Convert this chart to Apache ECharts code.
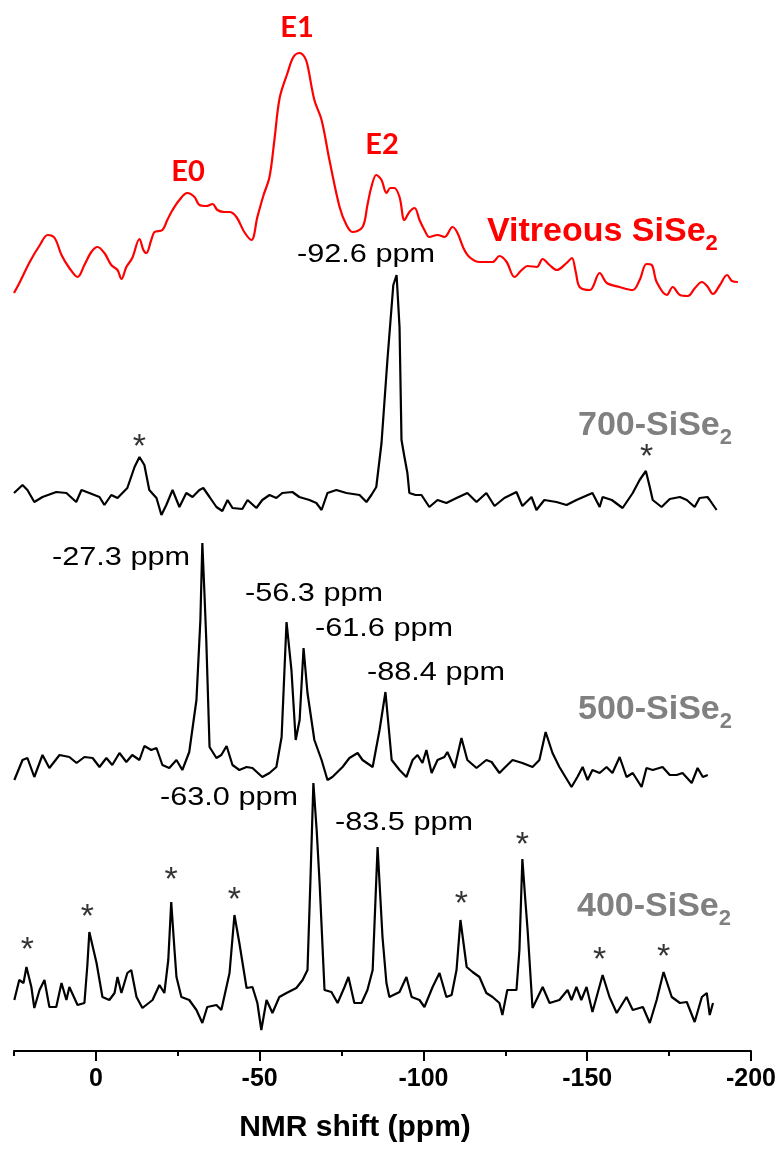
<!DOCTYPE html>
<html>
<head>
<meta charset="utf-8">
<script src="https://cdn.jsdelivr.net/npm/echarts@6/dist/echarts.min.js"></script>
<style>html,body{margin:0;padding:0;background:#fff}#c{width:781px;height:1150px}</style>
</head>
<body>
<div id="c"></div>
<script>
// ---- tick values (ppm) ----
const xMajorTicks = [0, -50, -100, -150, -200];
const xMinorTicks = [25, -25, -75, -125, -175];

// ---- spectra: [ppm, intensity above own baseline] ----
const vitreous = [[25,7],[23.2,18],[20.2,38],[17.1,55],[14.7,65],[12.6,62],[10.5,45],[8.1,32],[5.6,23],[3.5,35],[1.4,48],[-0.5,53],[-2.6,47],[-4.7,35],[-6.6,30],[-7.8,21],[-9.3,33],[-11.1,42],[-13.3,61],[-14.5,50],[-15.4,47],[-16.9,60],[-17.9,68],[-20.3,70],[-21.8,80],[-23.4,90],[-25.5,100],[-27.9,107],[-30.1,103],[-31.6,95],[-33.7,94],[-35.6,96],[-37.1,90],[-39.2,88],[-40.8,88],[-42.9,83],[-45.3,68],[-47.5,60],[-49.3,83],[-51.2,105],[-53.0,123],[-54.5,160],[-56.1,202],[-58.5,227],[-60.3,243],[-62.2,247],[-63.7,243],[-64.6,235],[-66.7,200],[-68.9,180],[-71.3,140],[-74.4,93],[-76.5,75],[-78.3,68],[-81.4,73],[-82.9,95],[-84.1,113],[-85.6,125],[-87.2,120],[-88.7,107],[-89.9,112],[-91.1,112],[-92.7,103],[-94.2,80],[-95.7,88],[-97.3,92],[-98.8,80],[-100.3,70],[-101.8,63],[-104.3,65],[-106.4,63],[-108.9,73],[-110.4,67],[-112.2,52],[-114.0,43],[-117.1,38],[-121.1,38],[-123.2,44],[-125.4,38],[-127.8,23],[-130.0,30],[-131.8,34],[-134.6,33],[-136.4,41],[-138.5,35],[-140.7,30],[-143.7,37],[-145.3,42],[-146.5,28],[-147.7,13],[-150.8,10],[-153.8,27],[-156.0,17],[-159.9,13],[-163.9,10],[-166.0,20],[-168.1,36],[-169.7,35],[-171.2,18],[-174.3,5],[-176.1,13],[-178.3,5],[-180.7,4],[-182.9,12],[-185.0,18],[-186.6,14],[-188.4,6],[-190.5,15],[-192.7,25],[-194.2,19],[-196.0,18]];

const s700 = [[25,7],[22.4,15],[20.9,10],[18.8,-2],[16.3,3],[12.1,8],[9.0,7],[6.0,-2],[4.4,10],[2.0,7],[-1.1,3],[-2.6,-5],[-4.7,5],[-6.6,2],[-9.6,12],[-11.8,33],[-13.3,43],[-14.8,35],[-16.3,10],[-18.5,2],[-20.0,-15],[-21.5,-5],[-23.4,10],[-25.5,-7],[-27.6,7],[-29.5,3],[-31.6,10],[-32.8,12],[-34.7,3],[-36.8,-7],[-38.6,-11],[-40.2,0],[-41.7,-8],[-44.7,-9],[-46.3,0],[-49.0,-8],[-50.8,0],[-53.0,5],[-55.1,2],[-56.9,7],[-60.0,8],[-62.1,3],[-65.2,0],[-67.3,-3],[-68.9,-10],[-70.7,7],[-73.4,10],[-76.5,7],[-80.5,5],[-82.6,-2],[-84.1,5],[-85.6,13],[-87.2,57],[-89.0,140],[-90.8,215],[-91.8,225],[-92.7,173],[-93.3,60],[-94.2,43],[-95.1,27],[-95.7,7],[-97.6,5],[-99.4,5],[-101.8,-7],[-104.3,0],[-107.0,-3],[-110.1,2],[-113.4,7],[-116.2,-2],[-119.2,7],[-121.7,-6],[-124.7,2],[-128.4,8],[-130.2,-6],[-133.0,3],[-134.5,-10],[-136.9,0],[-140.6,-2],[-143.7,-5],[-146.7,0],[-151.6,7],[-153.8,-7],[-154.7,3],[-157.5,0],[-160.8,-8],[-163.9,7],[-166.0,20],[-167.9,29],[-169.1,13],[-170.0,0],[-172.7,-7],[-175.2,1],[-178.3,3],[-180.4,0],[-182.8,-7],[-184.3,2],[-186.7,3],[-187.4,0],[-189.5,-10]];

const s500 = [[24.9,-10],[22.4,10],[20.9,12],[18.8,-7],[16.3,15],[14.2,2],[11.1,15],[8.1,13],[5.9,7],[3.5,13],[1.0,12],[-1.1,3],[-3.2,12],[-5.0,5],[-7.2,17],[-9.3,8],[-11.1,15],[-13.3,10],[-14.8,24],[-16.9,20],[-18.5,22],[-20.3,5],[-22.4,2],[-24.6,10],[-26.4,0],[-28.5,18],[-30.7,70],[-31.9,150],[-32.5,227],[-33.1,180],[-33.7,130],[-34.7,23],[-36.8,12],[-38.3,15],[-39.9,24],[-41.7,5],[-43.8,0],[-46.0,3],[-47.8,2],[-50.8,-7],[-53.0,-3],[-55.1,3],[-56.7,33],[-58.2,148],[-59.7,100],[-61.0,30],[-62.2,50],[-63.4,122],[-64.6,77],[-66.7,30],[-68.9,10],[-70.7,-10],[-72.2,-7],[-75.3,3],[-77.4,12],[-79.9,17],[-81.4,10],[-84.5,3],[-86.6,40],[-88.4,78],[-90.3,10],[-92.7,0],[-94.8,-7],[-96.7,10],[-98.2,15],[-99.7,7],[-100.9,20],[-102.5,-3],[-104.3,10],[-106.4,13],[-107.3,18],[-109.5,2],[-111.6,32],[-113.4,10],[-116.2,2],[-119.2,10],[-120.8,8],[-123.2,-3],[-124.7,2],[-127.2,10],[-130.2,7],[-133.3,3],[-135.4,10],[-137.3,38],[-139.4,17],[-141.5,3],[-145.2,-17],[-147.0,-7],[-148.6,3],[-150.1,-10],[-151.6,0],[-153.8,-3],[-155.9,3],[-157.7,-3],[-159.9,13],[-162.0,-7],[-163.9,-3],[-166.6,-17],[-168.1,2],[-170.0,0],[-173.0,3],[-175.2,-5],[-177.3,-5],[-179.1,-3],[-181.9,-13],[-183.7,2],[-185.3,-7],[-186.8,-5]];

const s400 = [[24.9,0],[23.4,20],[22.1,17],[21.2,33],[19.7,13],[18.8,-8],[17.2,10],[15.7,20],[14.2,-7],[12.1,-7],[10.5,17],[9.0,0],[8.1,13],[5.6,-5],[3.5,-3],[2.6,35],[2.0,68],[-0.2,37],[-2.0,3],[-4.1,0],[-5.7,7],[-6.6,23],[-7.8,7],[-9.6,27],[-10.8,30],[-12.4,3],[-14.2,-8],[-17.3,0],[-19.4,15],[-20.9,7],[-22.1,40],[-23.0,98],[-24.0,50],[-24.6,23],[-26.1,3],[-28.5,0],[-30.7,-10],[-32.5,-23],[-34.0,-7],[-36.8,-5],[-38.3,-10],[-40.8,27],[-42.3,85],[-43.8,57],[-46.0,12],[-47.8,13],[-49.3,-3],[-50.5,-30],[-52.1,0],[-53.9,-13],[-56.0,3],[-58.2,7],[-61.2,12],[-63.1,20],[-64.6,30],[-65.5,120],[-66.4,217],[-67.4,170],[-68.3,117],[-69.8,10],[-71.9,8],[-73.8,-3],[-75.9,13],[-77.1,23],[-78.9,-3],[-81.1,-3],[-82.9,10],[-84.5,30],[-86.0,153],[-87.5,63],[-88.7,17],[-89.6,3],[-92.7,8],[-94.8,23],[-96.4,3],[-98.8,0],[-100.3,-7],[-102.8,13],[-104.9,27],[-107.0,3],[-108.6,5],[-110.1,30],[-111.3,80],[-113.2,33],[-115.0,28],[-117.1,23],[-119.2,7],[-121.1,3],[-123.2,-3],[-124.1,-15],[-125.6,10],[-128.4,10],[-129.3,50],[-130.2,141],[-131.1,100],[-131.8,70],[-133.3,-8],[-136.4,13],[-138.5,-3],[-141.5,0],[-144.0,10],[-145.2,0],[-146.7,13],[-148.2,0],[-149.8,13],[-151.6,-12],[-154.7,25],[-156.8,3],[-159.0,-13],[-162.0,3],[-163.9,-10],[-167.0,-7],[-169.1,-23],[-171.2,0],[-173.3,28],[-175.8,3],[-178.3,-3],[-180.4,-2],[-182.8,-22],[-185.0,3],[-186.5,7],[-187.4,-15],[-188.4,-3]];

// spinning sidebands (*) : [ppm, height above own baseline]
const stars700 = [[-13.3, 60], [-168.1, 50]];
const stars400 = [[20.9, 57], [2.6, 90], [-23.0, 127], [-42.3, 107], [-111.6, 103], [-130.2, 162], [-153.8, 47], [-173.3, 50]];

// ---- stacking (vertical offset of each trace) ----
const offsets = { vitreous: 751, s700: 551, s500: 281, s400: 51 };

const shift = (arr, off) => arr.map(p => [p[0], p[1] + off]);

const chart = echarts.init(document.getElementById('c'), null, { renderer: 'canvas' });

const axisFont = 'Liberation Sans, Arial, sans-serif';

function lineSeries(name, data, off, color) {
  return {
    name, type: 'line', data: shift(data, off), showSymbol: false, symbol: 'none',
    smooth: name === 'Vitreous' ? 0.35 : false,
    lineStyle: { color, width: 2.2 }, z: 2, silent: true
  };
}
function starSeries(name, data, off) {
  return {
    name, type: 'scatter', data: shift(data, off), symbolSize: 1,
    itemStyle: { color: 'rgba(0,0,0,0)' },
    label: { show: true, formatter: '*', position: 'inside', color: '#000', fontSize: 34,
             fontFamily: axisFont, offset: [0, 8] },
    silent: true
  };
}

function txt(x, y, text, opts) {
  return Object.assign({ type: 'text', x, y, silent: true,
    style: Object.assign({ text, align: 'left', verticalAlign: 'middle' }, opts.style) },
    opts.extra || {});
}
const peakStyle = { fontSize: 26, fontFamily: axisFont, fill: '#000' };
const peakScale = { scaleX: 1.18 };
function sise(prefix, color) {
  return {
    text: '{m|' + prefix + '}{s|2}',
    rich: {
      m: { fontSize: 34, fontWeight: 'bold', fontFamily: axisFont, fill: color, lineHeight: 40 },
      s: { fontSize: 22, fontWeight: 'bold', fontFamily: axisFont, fill: color, lineHeight: 22, padding: [24, 0, 0, 0] }
    }
  };
}
const eStyle = { fontSize: 29, fontWeight: 'bold', fontFamily: 'Lato, Liberation Sans, sans-serif', fill: '#ff0000', align: 'center' };

chart.setOption({
  animation: false,
  grid: { left: 14, right: 30, top: 0, bottom: 99, containLabel: false },
  xAxis: [
    {
      type: 'value', min: -200, max: 25, inverse: true, position: 'bottom',
      axisLine: { show: true, onZero: false, lineStyle: { color: '#000', width: 2 } },
      axisTick: { show: true, customValues: xMajorTicks, length: 10, lineStyle: { color: '#000', width: 2 } },
      axisLabel: { show: true, customValues: xMajorTicks, margin: 16, fontSize: 25, fontWeight: 'bold',
                   fontFamily: axisFont, color: '#000' },
      splitLine: { show: false }
    },
    {
      type: 'value', min: -200, max: 25, inverse: true, position: 'bottom',
      axisLine: { show: false, onZero: false },
      axisTick: { show: true, customValues: xMinorTicks, length: 5, lineStyle: { color: '#000', width: 2 } },
      axisLabel: { show: false },
      splitLine: { show: false }
    }
  ],
  yAxis: { type: 'value', min: 0, max: 1051, show: false },
  series: [
    lineSeries('Vitreous', vitreous, offsets.vitreous, '#ff0000'),
    lineSeries('700-SiSe2', s700, offsets.s700, '#000'),
    lineSeries('500-SiSe2', s500, offsets.s500, '#000'),
    lineSeries('400-SiSe2', s400, offsets.s400, '#000'),
    starSeries('stars700', stars700, offsets.s700),
    starSeries('stars400', stars400, offsets.s400)
  ],
  graphic: [
    txt(188, 172, 'E0', { style: eStyle }),
    txt(297, 28, 'E1', { style: eStyle }),
    txt(382, 145, 'E2', { style: eStyle }),
    { type: 'text', x: 487, y: 232, silent: true, style: Object.assign({ align: 'left', verticalAlign: 'middle' }, sise('Vitreous SiSe', '#ff0000')) },
    { type: 'text', x: 578, y: 426, silent: true, style: Object.assign({ align: 'left', verticalAlign: 'middle' }, sise('700-SiSe', '#808080')) },
    { type: 'text', x: 578, y: 710, silent: true, style: Object.assign({ align: 'left', verticalAlign: 'middle' }, sise('500-SiSe', '#808080')) },
    { type: 'text', x: 577, y: 907, silent: true, style: Object.assign({ align: 'left', verticalAlign: 'middle' }, sise('400-SiSe', '#808080')) },
    txt(297, 255, '-92.6 ppm', { style: peakStyle, extra: peakScale }),
    txt(52, 558, '-27.3 ppm', { style: peakStyle, extra: peakScale }),
    txt(245, 594, '-56.3 ppm', { style: peakStyle, extra: peakScale }),
    txt(315, 629, '-61.6 ppm', { style: peakStyle, extra: peakScale }),
    txt(367, 673, '-88.4 ppm', { style: peakStyle, extra: peakScale }),
    txt(160, 798, '-63.0 ppm', { style: peakStyle, extra: peakScale }),
    txt(335, 823, '-83.5 ppm', { style: peakStyle, extra: peakScale }),
    txt(355, 1128, 'NMR shift (ppm)', { style: { fontSize: 30, fontWeight: 'bold', fontFamily: axisFont, fill: '#000', align: 'center' } })
  ]
});
</script>
</body>
</html>
